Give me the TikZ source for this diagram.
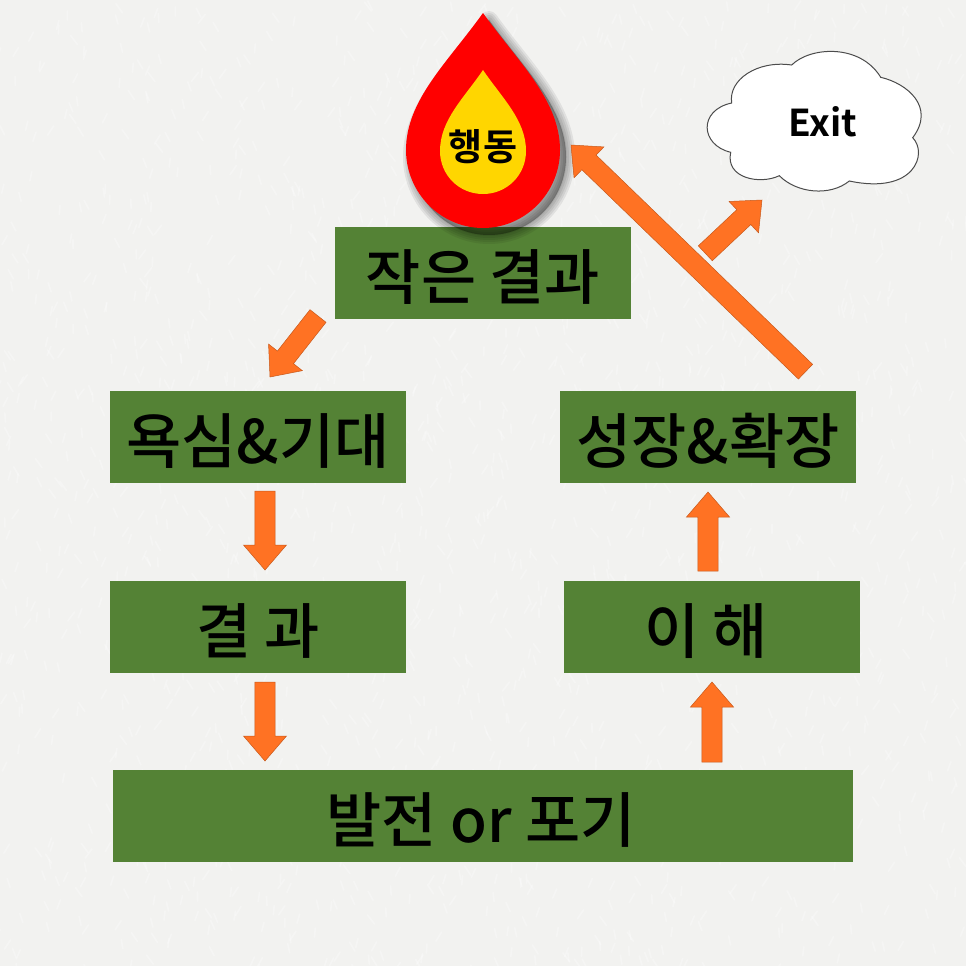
\documentclass[tikz,border=0pt]{standalone}
\usepackage{fontspec}
\newfontfamily\kr{Noto Sans CJK KR Medium}
\newfontfamily\krb{Noto Sans CJK KR Bold}
\usetikzlibrary{calc}
\definecolor{paper}{HTML}{F2F2F0}
\definecolor{boxgreen}{HTML}{548235}
\definecolor{arroworange}{HTML}{FF7223}
\definecolor{gold}{HTML}{FFD600}
\tikzset{
  greenbox/.style={fill=boxgreen,draw=none,minimum height=92pt,inner sep=0pt,text height=52pt,text depth=0pt,text=black,font=\kr\fontsize{60}{66}\selectfont},
  blockarrow/.style={fill=arroworange,draw=black!22!arroworange,line width=0.5pt,line join=miter},
  dropshadow/.style={draw=black,fill=black,opacity=0.07,line join=round},
  droplabel/.style={inner sep=0pt,text=black,font=\krb\fontsize{37}{42}\selectfont},
  cloudshape/.style={fill=white,draw=black!70,line width=1pt},
}
% block arrow from one named point to another
\newcommand{\blockconn}[2]{%
  \path[blockarrow] ($(#1)!10.2pt!90:(#2)$)
    -- ($($(#2)!25pt!(#1)$)!10.2pt!90:(#2)$)
    -- ($($(#2)!25pt!(#1)$)!21.5pt!90:(#2)$)
    -- (#2)
    -- ($($(#2)!25pt!(#1)$)!21.5pt!-90:(#2)$)
    -- ($($(#2)!25pt!(#1)$)!10.2pt!-90:(#2)$)
    -- ($(#1)!10.2pt!-90:(#2)$) -- cycle;}
\newcommand{\dropouter}{(483,13) .. controls (518,62) and (560,100) .. (560,150)
  .. controls (560,193) and (525,228) .. (483,228)
  .. controls (441,228) and (406,193) .. (406,150)
  .. controls (406,100) and (448,62) .. (483,13) -- cycle}
\begin{document}
\begin{tikzpicture}[x=1pt,y=-1pt]
\useasboundingbox (0,0) rectangle (966,966);
\fill[paper] (0,0) rectangle (966,966);
% faint paper grain
\pgfmathsetseed{7}
\foreach \i in {1,...,1800}{
  \pgfmathsetmacro{\gx}{rnd*966}
  \pgfmathsetmacro{\gy}{rnd*966}
  \pgfmathsetmacro{\gd}{rnd*14-7}
  \draw[white,opacity=0.28,line width=1.6pt,line cap=round] (\gx,\gy) -- ++(\gd,9);
}
% boxes
\node[greenbox,minimum width=296pt] (small) at (483,273) {작은 결과};
\node[greenbox,minimum width=296pt] (greed) at (258,437) {욕심\&기대};
\node[greenbox,minimum width=296pt] (grow) at (708,437) {성장\&확장};
\node[greenbox,minimum width=296pt] (result) at (258,627) {결 과};
\node[greenbox,minimum width=296pt] (insight) at (712,627) {이 해\hspace*{12pt}};
\node[greenbox,minimum width=740pt] (choice) at (483,816) {발전 or 포기\hspace*{4pt}};
% drop
\foreach \w in {18,14,10,6,2}{\draw[dropshadow,line width=\w pt,shift={(6,7)}] \dropouter;}
\fill[red] \dropouter;
\fill[gold] (483,70) .. controls (502,98) and (526,120) .. (526,151)
  .. controls (526,175) and (507,194) .. (483,194)
  .. controls (459,194) and (440,175) .. (440,151)
  .. controls (440,120) and (464,98) .. (483,70) -- cycle;
\node[droplabel] (act) at (483,147) {행동};
\coordinate (dropedge) at (571,145);
% cloud
\draw[cloudshape] (731.7,103) .. controls (728,80) and (757,60) .. (791.7,65)
  .. controls (810,46.7) and (860,43.3) .. (880.7,77.3)
  .. controls (906.7,83.3) and (936,106.7) .. (912.7,137.7)
  .. controls (928,153.3) and (915,195) .. (849.3,181)
  .. controls (830,196.7) and (796.7,193.3) .. (779.3,175.7)
  .. controls (760,185) and (725,178.3) .. (730.7,152.3)
  .. controls (700,145) and (698.3,110) .. (731.7,103) -- cycle;
\node[inner sep=0pt,font=\krb\fontsize{37}{42}\selectfont] (exit) at (823,122) {Exit};
\coordinate (exitedge) at (762,200);
% arrow ends
\coordinate (a1) at (318,316); \coordinate (b1) at (270,377);
\coordinate (a2) at (265,491); \coordinate (b2) at (265,570);
\coordinate (a3) at (265,682); \coordinate (b3) at (265,761);
\coordinate (a4) at (712,762); \coordinate (b4) at (712,682);
\coordinate (a5) at (708,571); \coordinate (b5) at (708,492);
\coordinate (a6) at (805.5,371.7);
\coordinate (a7) at (705.3,253.3);
\blockconn{a1}{b1}
\blockconn{a2}{b2}
\blockconn{a3}{b3}
\blockconn{a4}{b4}
\blockconn{a5}{b5}
\blockconn{a6}{dropedge}
\blockconn{a7}{exitedge}
\end{tikzpicture}
\end{document}
